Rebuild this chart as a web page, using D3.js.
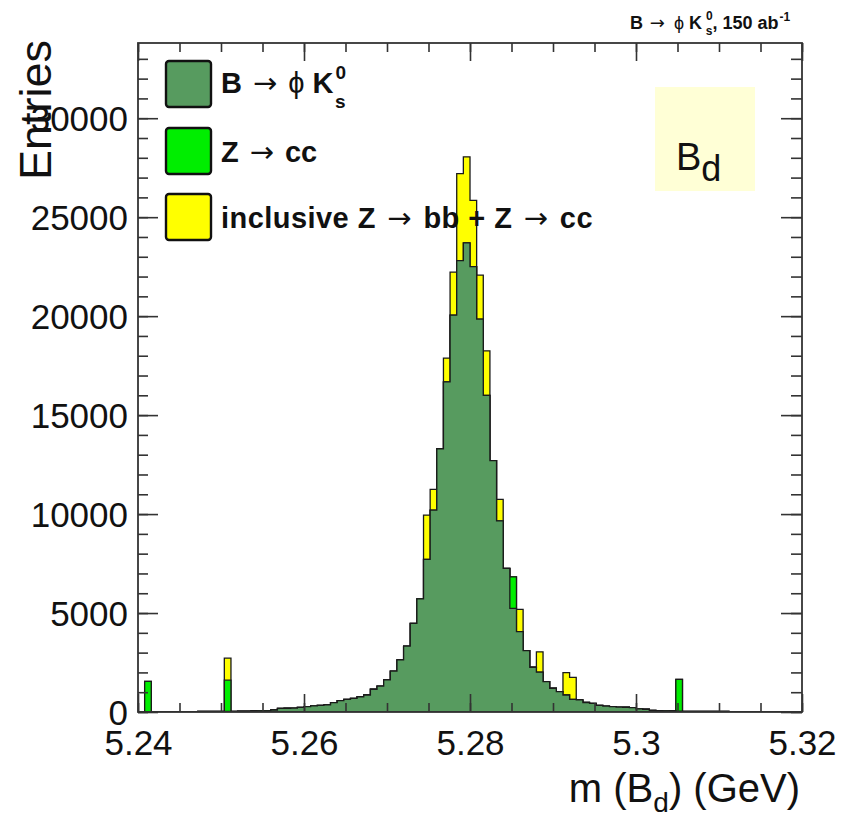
<!DOCTYPE html>
<html>
<head>
<meta charset="utf-8">
<script src="https://cdn.jsdelivr.net/npm/d3@7"></script>
<style>
  body { margin: 0; background: #fff; }
  svg { display: block; font-family: "Liberation Sans", Arial, Helvetica, sans-serif; }
</style>
</head>
<body>
<script>
// Histogram binning: 100 bins of 0.8 MeV between 5.24 and 5.32 GeV
var massMin = 5.24;
var massMax = 5.32;
var nBins = 100;

// B -> phi K0s signal, entries per bin
var signalEntries = [
    0, 0, 0, 15, 15, 15, 20, 20, 20, 25,
    25, 30, 30, 30, 30, 40, 40, 50, 60, 60,
    100, 180, 190, 200, 230, 270, 310, 330, 360, 470,
    570, 640, 690, 770, 860, 1150, 1310, 1620, 2070, 2630,
    3330, 4480, 5720, 7710, 10200, 13300, 16680, 20050, 22800, 23700,
    22500, 19850, 16000, 12700, 9660, 7260, 5240, 4060, 3100, 2260,
    2010, 1530, 1200, 1030, 860, 640, 610, 480, 440, 330,
    300, 270, 250, 240, 220, 160, 140, 80, 70, 60,
    50, 40, 30, 30, 30, 30, 30, 30, 30, 20,
    20, 20, 20, 20, 10, 10, 0, 0, 0, 0
];

// Z -> cc background (only non-empty bins)
var zccBins = [1, 13, 56, 81];
var zccEntries = [1550, 1580, 1590, 1610];

// inclusive Z -> bb + Z -> cc background (only non-empty bins)
var inclBins = [13, 43, 44, 46, 47, 48, 49, 50, 51, 52, 54, 57, 60, 64, 65];
var inclEntries = [1110, 2240, 1050, 1200, 2170, 4400, 4350, 3350, 2220, 2250, 1080, 1130, 1030, 1130, 1110];

var xMajorTicks = [5.24, 5.26, 5.28, 5.30, 5.32];
var xTickLabels = ['5.24', '5.26', '5.28', '5.3', '5.32'];
var yMajorTicks = [0, 5000, 10000, 15000, 20000, 25000, 30000];
var yMax = 33800;

var legendColors = ['#579b5f', '#00ee00', '#ffff00'];

// Frame
var svgWidth = 841;
var svgHeight = 820;
var frameLeft = 138, frameRight = 802, frameTop = 43, frameBottom = 712;
var font = '"Liberation Sans", Arial, Helvetica, sans-serif';
var arrowFont = '"DejaVu Sans", sans-serif';

function toFull(bins, values) {
    var full = [];
    for (var i = 0; i < nBins; i++) full[i] = 0;
    bins.forEach(function(b, i) { full[b] = values[i]; });
    return full;
}

// ROOT-style "#rightarrow": arrow with some air around it, then the following text
function addArrow(textSel, size, after) {
    textSel.append('tspan')
        .attr('font-family', arrowFont)
        .attr('font-weight', 'normal')
        .attr('font-size', size)
        .attr('dx', size * 0.1)
        .text('\u2192');
    return textSel.append('tspan').attr('dx', size * 0.1).text(after);
}

function draw() {
    var svg = d3.select('body').append('svg')
        .attr('width', svgWidth)
        .attr('height', svgHeight);

    var x = d3.scaleLinear().domain([massMin, massMax]).range([frameLeft, frameRight]);
    var y = d3.scaleLinear().domain([0, yMax]).range([frameBottom, frameTop]);
    var binWidth = (massMax - massMin) / nBins;

    var zcc = toFull(zccBins, zccEntries);
    var incl = toFull(inclBins, inclEntries);

    // cumulative stack layers, bottom to top
    var layerSignal = signalEntries.slice();
    var layerZcc = signalEntries.map(function(v, i) { return v + zcc[i]; });
    var layerIncl = layerZcc.map(function(v, i) { return v + incl[i]; });

    svg.append('clipPath').attr('id', 'frame')
        .append('rect')
        .attr('x', frameLeft).attr('y', frameTop)
        .attr('width', frameRight - frameLeft).attr('height', frameBottom - frameTop);

    var area = d3.area()
        .x(function(d) { return x(d.edge); })
        .y0(y(0))
        .y1(function(d) { return y(d.value); })
        .curve(d3.curveStepAfter);

    function stepPoints(values) {
        var pts = values.map(function(v, i) { return { edge: massMin + i * binWidth, value: v }; });
        pts.push({ edge: massMax, value: values[nBins - 1] });
        return pts;
    }

    var plot = svg.append('g').attr('clip-path', 'url(#frame)');
    [[layerIncl, legendColors[2]], [layerZcc, legendColors[1]], [layerSignal, legendColors[0]]].forEach(function(layer) {
        plot.append('path')
            .datum(stepPoints(layer[0]))
            .attr('d', area)
            .attr('fill', layer[1])
            .attr('stroke', '#1a1a1a')
            .attr('stroke-width', 1.3);
    });

    // ticks
    var xMinor = d3.range(0, 17).map(function(i) { return massMin + i * 0.005; });
    var yMinor = d3.range(0, 34).map(function(i) { return i * 1000; });

    var axisColor = '#333';

    var gxMinor = svg.append('g').attr('transform', 'translate(0,' + frameBottom + ')')
        .call(d3.axisBottom(x).tickValues(xMinor).tickSizeInner(-9).tickSizeOuter(0).tickFormat(''));
    var gx = svg.append('g').attr('transform', 'translate(0,' + frameBottom + ')')
        .call(d3.axisBottom(x).tickValues(xMajorTicks).tickSizeInner(-18).tickSizeOuter(0).tickPadding(18)
            .tickFormat(function(d, i) { return xTickLabels[i]; }));
    var gxTopMinor = svg.append('g').attr('transform', 'translate(0,' + frameTop + ')')
        .call(d3.axisTop(x).tickValues(xMinor).tickSizeInner(-9).tickSizeOuter(0).tickFormat(''));
    var gxTop = svg.append('g').attr('transform', 'translate(0,' + frameTop + ')')
        .call(d3.axisTop(x).tickValues(xMajorTicks).tickSizeInner(-18).tickSizeOuter(0).tickFormat(''));

    var gyMinor = svg.append('g').attr('transform', 'translate(' + frameLeft + ',0)')
        .call(d3.axisLeft(y).tickValues(yMinor).tickSizeInner(-10).tickSizeOuter(0).tickFormat(''));
    var gy = svg.append('g').attr('transform', 'translate(' + frameLeft + ',0)')
        .call(d3.axisLeft(y).tickValues(yMajorTicks).tickSizeInner(-20).tickSizeOuter(0).tickPadding(10)
            .tickFormat(function(d) { return String(d); }));
    var gyRightMinor = svg.append('g').attr('transform', 'translate(' + frameRight + ',0)')
        .call(d3.axisRight(y).tickValues(yMinor).tickSizeInner(-11).tickSizeOuter(0).tickFormat(''));
    var gyRight = svg.append('g').attr('transform', 'translate(' + frameRight + ',0)')
        .call(d3.axisRight(y).tickValues(yMajorTicks).tickSizeInner(-21).tickSizeOuter(0).tickFormat(''));

    [gxMinor, gx, gxTopMinor, gxTop, gyMinor, gy, gyRightMinor, gyRight].forEach(function(g) {
        g.select('.domain').remove();
        g.selectAll('line').attr('stroke', axisColor).attr('stroke-width', 1.6);
        g.selectAll('text').attr('font-family', font).attr('font-size', 35).attr('fill', '#111');
    });
    gy.selectAll('text').attr('dy', '0.36em');

    // frame
    svg.append('rect')
        .attr('x', frameLeft).attr('y', frameTop)
        .attr('width', frameRight - frameLeft).attr('height', frameBottom - frameTop)
        .attr('fill', 'none').attr('stroke', axisColor).attr('stroke-width', 1.8);

    // axis titles
    var xt = svg.append('text')
        .attr('x', 800).attr('y', 802)
        .attr('text-anchor', 'end')
        .attr('font-family', font).attr('font-size', 40).attr('fill', '#111');
    xt.append('tspan').text('m (B');
    xt.append('tspan').attr('font-size', 28).attr('dy', 10).text('d');
    xt.append('tspan').attr('dy', -10).text(') (GeV)');

    svg.append('text')
        .attr('transform', 'translate(51,40) rotate(-90)')
        .attr('text-anchor', 'end')
        .attr('font-family', font).attr('font-size', 45).attr('fill', '#111')
        .text('Entries');

    // title top right
    var tt = svg.append('text')
        .attr('x', 630).attr('y', 29)
        .attr('font-family', font).attr('font-size', 18).attr('font-weight', 'bold').attr('fill', '#111');
    tt.append('tspan').text('B ');
    addArrow(tt, 18, ' ').attr('dx', 4);
    tt.append('tspan').attr('font-weight', 'normal').text('\u03d5 ');
    tt.append('tspan').text('K');
    tt.append('tspan').attr('font-size', 12).attr('dx', 4).attr('dy', -9).text('0');
    tt.append('tspan').attr('font-size', 12).attr('dx', -7).attr('dy', 15).text('s');
    tt.append('tspan').attr('dy', -6).text(', 150 ab');
    tt.append('tspan').attr('font-size', 12).attr('dx', 1).attr('dy', -8).text('-1');

    // legend
    var legendY = [61, 128, 194];
    var legend = svg.append('g');
    legendColors.forEach(function(color, i) {
        legend.append('rect')
            .attr('x', 166).attr('y', legendY[i])
            .attr('width', 45).attr('height', 46)
            .attr('rx', 3)
            .attr('fill', color)
            .attr('stroke', '#111').attr('stroke-width', 2.4);
    });

    function legendText(yPos) {
        return legend.append('text')
            .attr('x', 221).attr('y', yPos)
            .attr('font-family', font).attr('font-size', 29).attr('font-weight', 'bold').attr('fill', '#111');
    }

    var l1 = legendText(93);
    l1.append('tspan').text('B ');
    addArrow(l1, 29, ' ');
    l1.append('tspan').attr('font-weight', 'normal').text('\u03d5 ');
    l1.append('tspan').text('K');
    l1.append('tspan').attr('font-size', 19).attr('dx', 2).attr('dy', -14).text('0');
    l1.append('tspan').attr('font-size', 19).attr('dx', -11).attr('dy', 29).text('s');

    var l2 = legendText(162);
    l2.append('tspan').text('Z ');
    addArrow(l2, 29, ' cc');

    var l3 = legendText(228).attr('letter-spacing', 0.45);
    l3.append('tspan').text('inclusive Z ');
    addArrow(l3, 29, ' bb + Z ');
    addArrow(l3, 29, ' cc');

    // B_d label box
    svg.append('rect')
        .attr('x', 655).attr('y', 87)
        .attr('width', 100).attr('height', 104)
        .attr('fill', '#ffffd6');
    var bd = svg.append('text')
        .attr('x', 676).attr('y', 170)
        .attr('font-family', font).attr('font-size', 38).attr('fill', '#111');
    bd.append('tspan').text('B');
    bd.append('tspan').attr('font-size', 36).attr('dy', 11).text('d');
}

draw();
</script>
</body>
</html>
